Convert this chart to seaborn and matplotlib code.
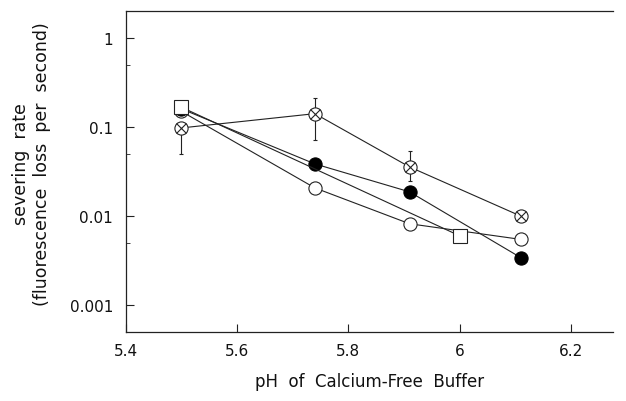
import numpy as np
import matplotlib
matplotlib.use("Agg")
import matplotlib.pyplot as plt
import seaborn as sns
from matplotlib.ticker import FixedLocator, FixedFormatter, NullFormatter

# ---- data ----
ph_square = [5.5, 6.0]
rate_square = [0.167, 0.0060]

ph_filled = [5.5, 5.74, 5.91, 6.11]
rate_filled = [0.160, 0.0385, 0.0187, 0.00341]

ph_open = [5.5, 5.74, 5.91, 6.11]
rate_open = [0.150, 0.0207, 0.0082, 0.00547]

ph_cross = [5.5, 5.74, 5.91, 6.11]
rate_cross = [0.0975, 0.141, 0.0356, 0.00997]
cross_err_low = [0.050, 0.072, 0.025, 0.00997]
cross_err_high = [0.0975, 0.211, 0.054, 0.00997]

x_ticks = [5.4, 5.6, 5.8, 6.0, 6.2]
x_tick_labels = ["5.4", "5.6", "5.8", "6", "6.2"]
y_ticks = [1, 0.1, 0.01, 0.001]
y_tick_labels = ["1", "0.1", "0.01", "0.001"]

sns.set_theme(style="white")
plt.rcParams["font.family"] = ["DejaVu Sans"]

fig = plt.figure(figsize=(6.26, 4.02), dpi=100)
ax = fig.add_axes([0.2005, 0.1716, 0.7785, 0.7985])

lw = 0.8
ms = 9.5
col = "#222222"

# error bars for crossed-circle series
lo = np.array(rate_cross) - np.array(cross_err_low)
hi = np.array(cross_err_high) - np.array(rate_cross)
ax.errorbar(ph_cross, rate_cross, yerr=[lo, hi], fmt="none", ecolor=col,
            elinewidth=lw, capsize=1.5, capthick=lw, zorder=1)

sns.lineplot(x=ph_cross, y=rate_cross, ax=ax, color=col, lw=lw, marker="o",
             markersize=ms, markerfacecolor="white", markeredgecolor=col,
             markeredgewidth=lw, zorder=2, estimator=None, sort=False)
ax.plot(ph_cross, rate_cross, ls="none", marker="x", markersize=ms * 0.72,
        markeredgecolor=col, markeredgewidth=lw, zorder=3)

sns.lineplot(x=ph_open, y=rate_open, ax=ax, color=col, lw=lw, marker="o",
             markersize=ms, markerfacecolor="white", markeredgecolor=col,
             markeredgewidth=lw, zorder=4, estimator=None, sort=False)
sns.lineplot(x=ph_filled, y=rate_filled, ax=ax, color=col, lw=lw, marker="o",
             markersize=ms, markerfacecolor="black", markeredgecolor="black",
             markeredgewidth=lw, zorder=5, estimator=None, sort=False)
sns.lineplot(x=ph_square, y=rate_square, ax=ax, color=col, lw=lw, marker="s",
             markersize=ms, markerfacecolor="white", markeredgecolor=col,
             markeredgewidth=lw, zorder=6, estimator=None, sort=False)

ax.set_yscale("log")
ax.set_xlim(5.4, 6.275)
ax.set_ylim(0.0005, 2.0)

ax.xaxis.set_major_locator(FixedLocator(x_ticks))
ax.xaxis.set_major_formatter(FixedFormatter(x_tick_labels))
ax.yaxis.set_major_locator(FixedLocator(y_ticks))
ax.yaxis.set_major_formatter(FixedFormatter(y_tick_labels))
ax.yaxis.set_minor_locator(FixedLocator([0.5, 0.05, 0.005]))
ax.yaxis.set_minor_formatter(NullFormatter())

ax.tick_params(axis="both", which="major", direction="in", length=6,
               width=0.8, color=col, labelsize=11, labelcolor="#111111")
ax.tick_params(axis="x", which="major", pad=8, bottom=True, top=False)
ax.tick_params(axis="y", which="major", pad=9, left=True, right=False)
ax.tick_params(axis="y", which="minor", direction="in", length=3,
               width=0.6, color=col, left=True, right=False)

for s in ["left", "bottom", "top"]:
    ax.spines[s].set_visible(True)
    ax.spines[s].set_color(col)
    ax.spines[s].set_linewidth(0.9)
ax.spines["right"].set_visible(False)

ax.set_xlabel("pH  of  Calcium-Free  Buffer", fontsize=12, labelpad=10,
              color="#111111")
ax.set_ylabel("severing  rate\n(fluorescence  loss  per  second)",
              fontsize=12.5, color="#111111", linespacing=1.25)
ax.yaxis.set_label_coords(-0.152, 0.525)
ax.grid(False)

fig.savefig("out.png", dpi=100)
